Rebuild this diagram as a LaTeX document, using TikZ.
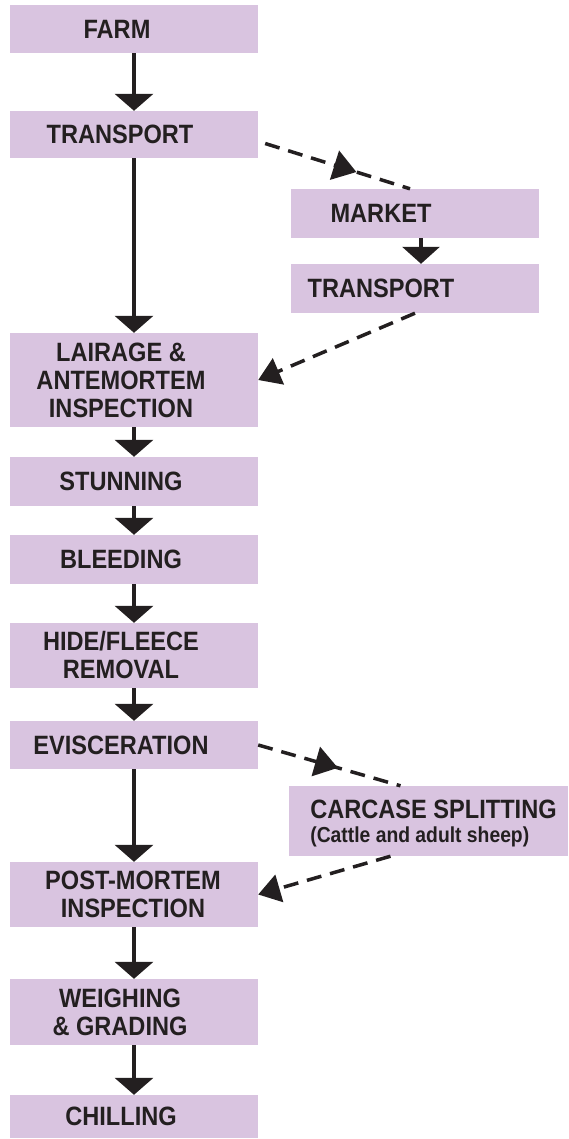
\documentclass[tikz,border=0pt]{standalone}
\usepackage{fontspec}
\setmainfont[FakeStretch=0.89]{Liberation Sans}
\usepackage{xcolor}
\usepackage{tikz}
\usetikzlibrary{arrows.meta,decorations.markings}

\definecolor{lilac}{RGB}{217,196,224}
\definecolor{ink}{RGB}{35,31,32}

\tikzset{
  stage/.style={fill=lilac, draw=none, minimum width=248pt, inner sep=0pt},
  lbl/.style={font=\bfseries\fontsize{26.5}{28}\selectfont, text=ink, align=center, inner sep=0pt},
  flow/.style={draw=ink, line width=4pt, -{Triangle[width=38pt,length=17pt]}},
  dashlink/.style={draw=ink, line width=3.5pt, dash pattern=on 15pt off 9pt},
  endtip/.style={-{Triangle[width=28pt,length=22pt]}},
  midtip/.style={postaction={decorate}, decoration={markings,
      mark=at position #1 with {\arrow{Triangle[width=30pt,length=23pt]}}}}
}

\begin{document}
\begin{tikzpicture}[x=1pt,y=-1pt]
  \useasboundingbox (0,0) rectangle (569,1139);

  % main line
  \node[stage, minimum height=48pt, label={[lbl,xshift=-17pt]center:FARM}] (farm) at (134,29) {};
  \node[stage, minimum height=47pt, label={[lbl,xshift=-14pt]center:TRANSPORT}] (transport) at (134,134.5) {};
  \node[stage, minimum height=94pt, label={[lbl,xshift=-13pt]center:LAIRAGE \&\\ANTEMORTEM\\INSPECTION}] (lairage) at (134,380) {};
  \node[stage, minimum height=49pt, label={[lbl,xshift=-13pt]center:STUNNING}] (stunning) at (134,481.5) {};
  \node[stage, minimum height=49pt, label={[lbl,xshift=-13pt]center:BLEEDING}] (bleeding) at (134,559.5) {};
  \node[stage, minimum height=65pt, label={[lbl,xshift=-13pt]center:HIDE/FLEECE\\REMOVAL}] (hide) at (134,655.5) {};
  \node[stage, minimum height=48pt, label={[lbl,xshift=-13pt]center:EVISCERATION}] (evisc) at (134,745) {};
  \node[stage, minimum height=65pt, label={[lbl,xshift=-1pt]center:POST-MORTEM\\INSPECTION}] (postmortem) at (134,894.5) {};
  \node[stage, minimum height=66pt, label={[lbl,xshift=-14pt]center:WEIGHING\\\& GRADING}] (weighing) at (134,1012) {};
  \node[stage, minimum height=43pt, label={[lbl,xshift=-13pt]center:CHILLING}] (chilling) at (134,1116.5) {};

  % side branches
  \node[stage, minimum height=49pt, label={[lbl,xshift=-34pt]center:MARKET}] (market) at (415,213.5) {};
  \node[stage, minimum height=49pt, label={[lbl,xshift=-34pt]center:TRANSPORT}] (transport2) at (415,288.5) {};
  \node[stage, minimum width=279pt, minimum height=70pt,
        label={[lbl,align=left,xshift=5pt,yshift=-2pt]center:CARCASE SPLITTING\\[-4pt]{\fontsize{21.7}{24}\selectfont(Cattle and adult sheep)}}] (carcase) at (428.5,821) {};

  \draw[flow] (farm) -- (transport);
  \draw[flow] (transport) -- (lairage);
  \draw[flow] (lairage) -- (stunning);
  \draw[flow] (stunning) -- (bleeding);
  \draw[flow] (bleeding) -- (hide);
  \draw[flow] (hide) -- (evisc);
  \draw[flow] (evisc) -- (postmortem);
  \draw[flow] (postmortem) -- (weighing);
  \draw[flow] (weighing) -- (chilling);

  \path[dashlink, midtip=0.63] ([shift={(7,9)}]transport.east) -- ([xshift=-5pt]market.north);
  \path[dashlink, -{Triangle[width=37pt,length=17pt]}] ([xshift=6pt]market.south) -- ([xshift=6pt]transport2.north);
  \path[dashlink, endtip] (transport2.south) -- (lairage.east);
  \path[dashlink, midtip=0.56] (evisc.east) -- ([xshift=-28pt]carcase.north);
  \path[dashlink, endtip] ([xshift=-38pt]carcase.south) -- (postmortem.east);
\end{tikzpicture}
\end{document}
